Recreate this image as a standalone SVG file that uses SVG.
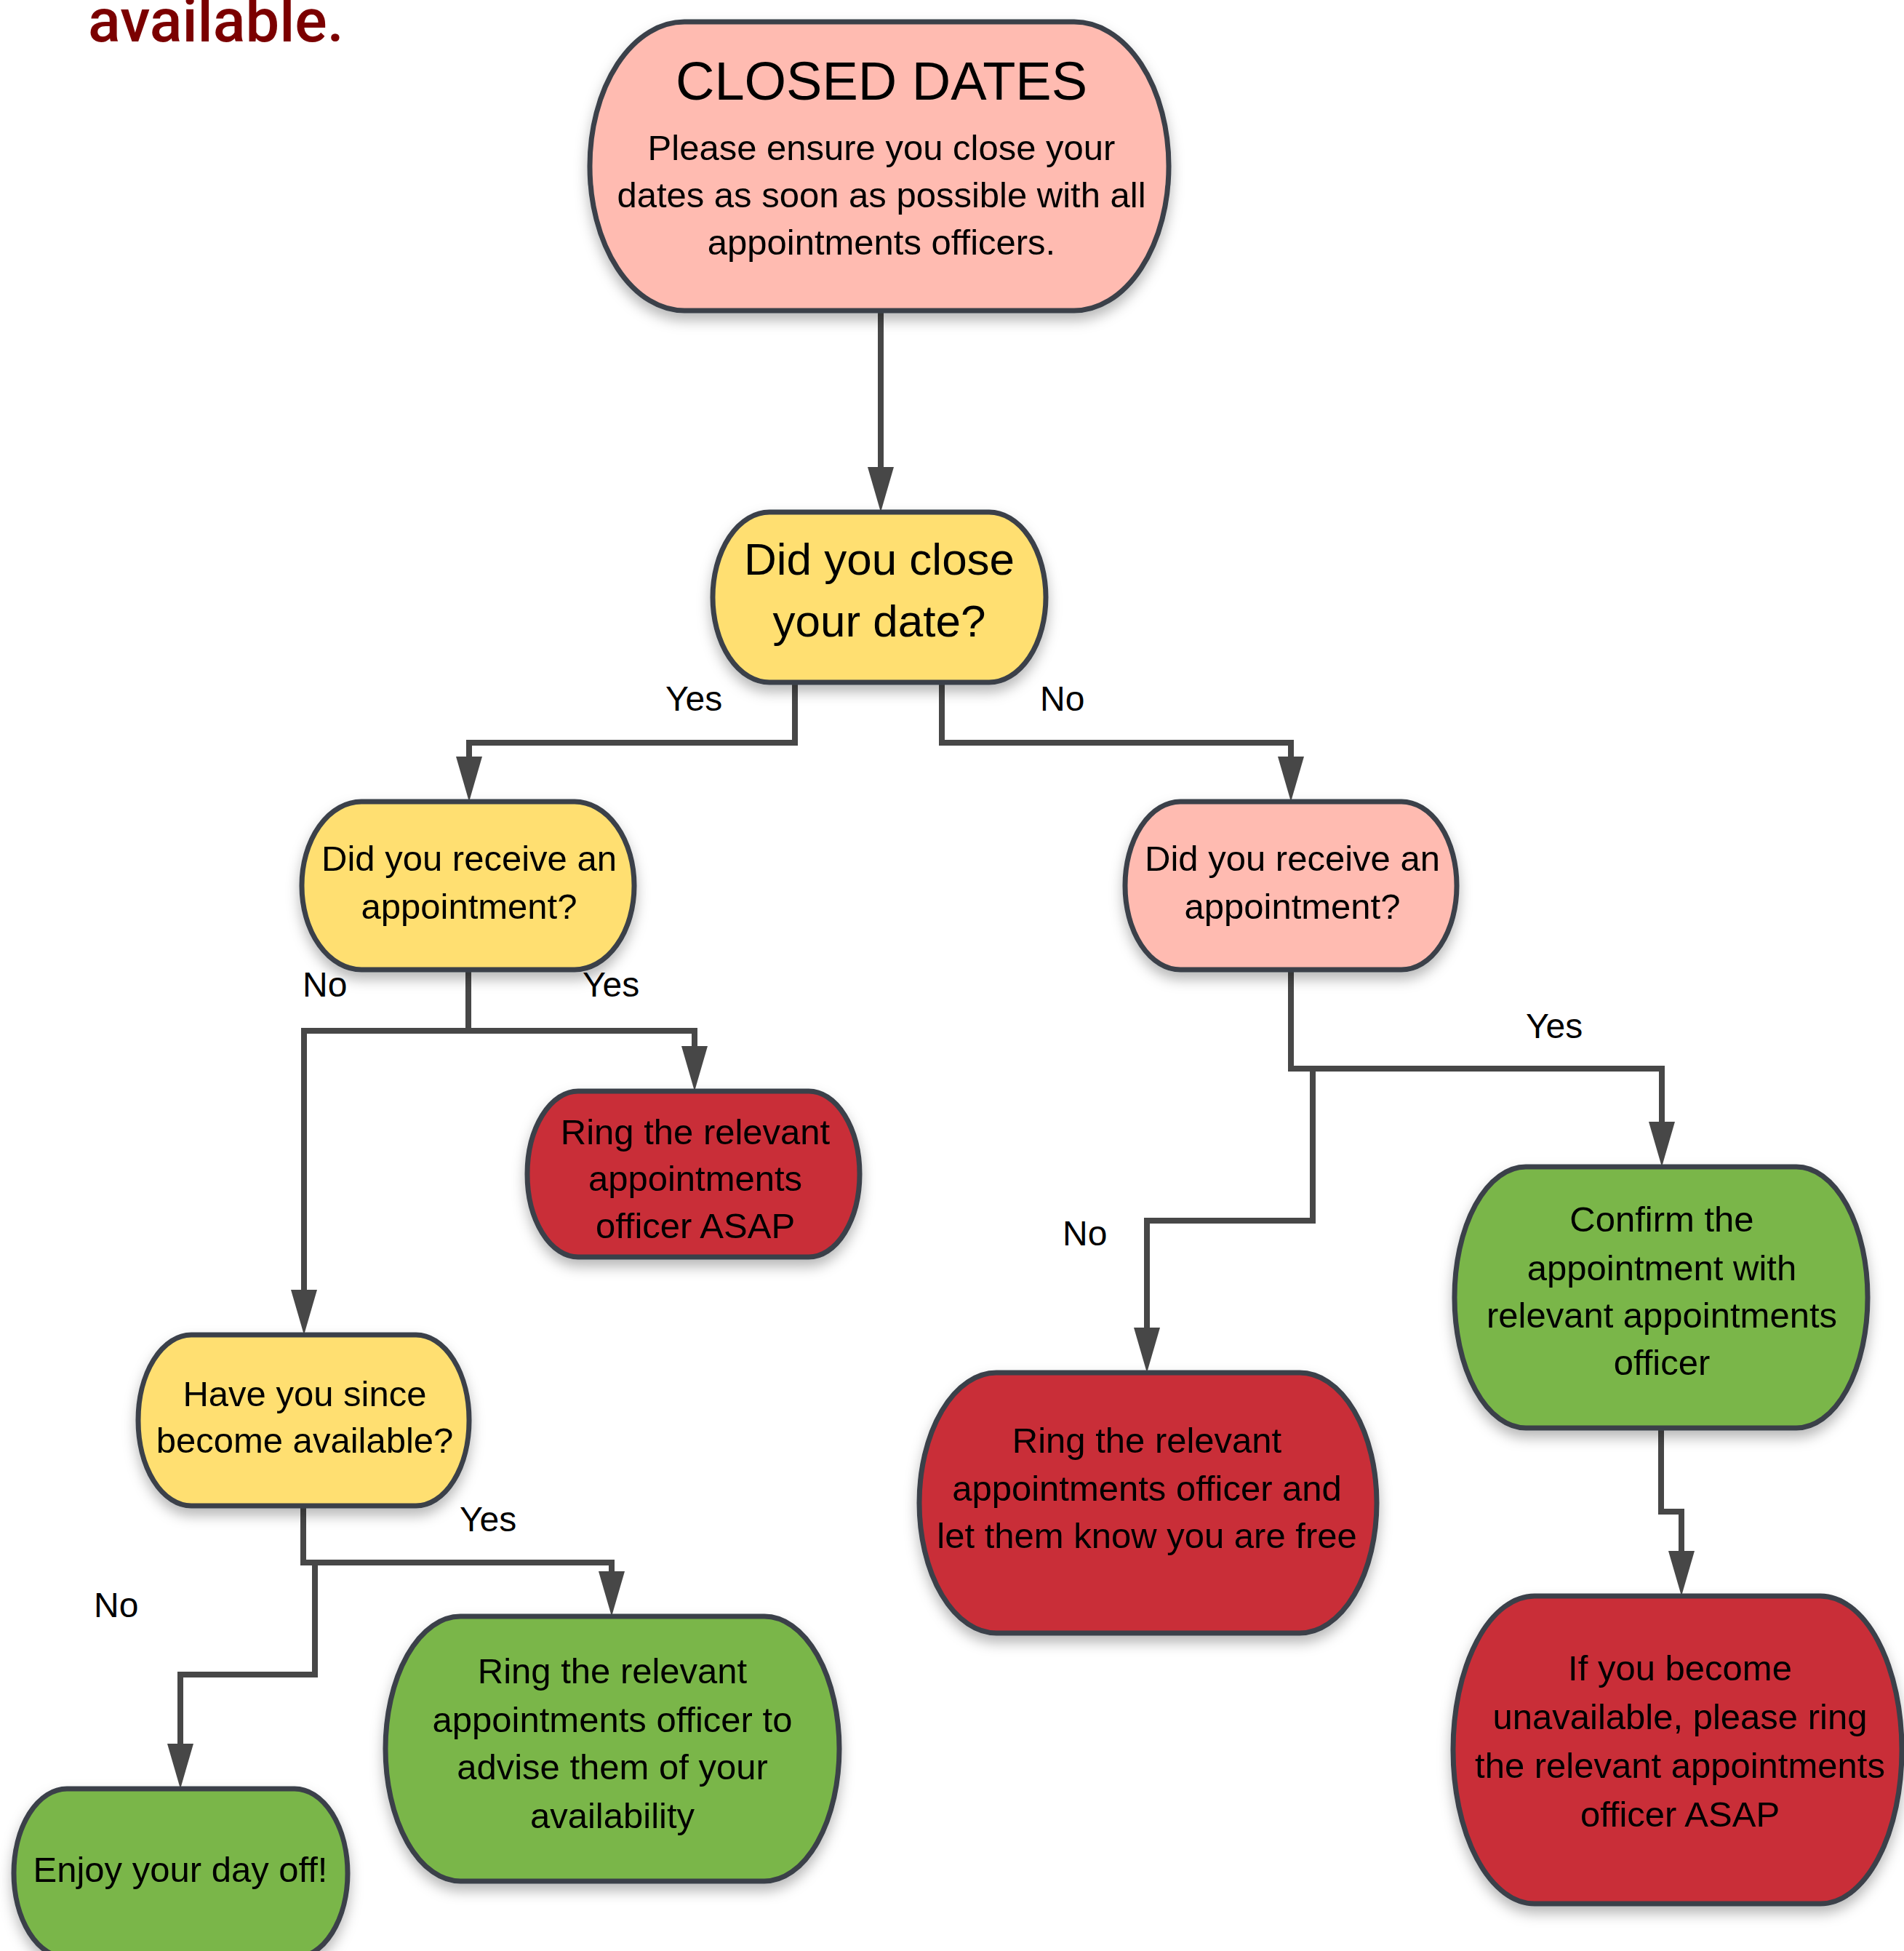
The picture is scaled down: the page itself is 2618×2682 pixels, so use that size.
<svg xmlns="http://www.w3.org/2000/svg" width="2618" height="2682" viewBox="0 0 2618 2682">
<defs>
<style>
.node{stroke:#3a414a;stroke-width:7;filter:url(#sh)}
.pink{fill:#ffbbb1}
.yellow{fill:#ffdf71}
.red{fill:#c92d39}
.green{fill:#7ab648}
.t{font-family:"Liberation Sans",Arial,sans-serif;font-size:49px;fill:#000;text-anchor:middle}
.lbl{font-family:"Liberation Sans",Arial,sans-serif;font-size:48px;fill:#000}
.conn{fill:none;stroke:#474747;stroke-width:8;stroke-linejoin:miter}
.title{font-family:Roboto,"Liberation Sans",sans-serif;font-size:83px;font-weight:500;fill:#7b0000}
</style>
<filter id="sh" x="-10%" y="-10%" width="120%" height="130%">
<feDropShadow dx="0" dy="10" stdDeviation="9" flood-color="#000" flood-opacity="0.28"/>
</filter>
<marker id="arr" markerUnits="userSpaceOnUse" markerWidth="64" markerHeight="40" viewBox="0 -20 64 40" refX="0" refY="0" orient="auto">
<path d="M0,-18 L62,0 L0,18 Z" fill="#474747"/>
</marker>
</defs>
<rect width="2618" height="2682" fill="#fff"/>
<text class="title" x="121" y="57">available.</text>

<g id="connectors">
<path class="conn" d="M1211,427 V642" marker-end="url(#arr)"/>
<path class="conn" d="M1093,938 V1021 H645 V1040" marker-end="url(#arr)"/>
<path class="conn" d="M1295,938 V1021 H1775 V1040" marker-end="url(#arr)"/>
<path class="conn" d="M644,1333 V1417"/>
<path class="conn" d="M418,1417 H955 V1438" marker-end="url(#arr)"/>
<path class="conn" d="M418,1413 V1773" marker-end="url(#arr)"/>
<path class="conn" d="M1775,1333 V1469 H2285 V1542" marker-end="url(#arr)"/>
<path class="conn" d="M1805,1469 V1678 H1577 V1825" marker-end="url(#arr)"/>
<path class="conn" d="M2284,1963 V2078 H2312 V2132" marker-end="url(#arr)"/>
<path class="conn" d="M417,2070 V2148 H841 V2160" marker-end="url(#arr)"/>
<path class="conn" d="M433,2148 V2302 H248 V2397" marker-end="url(#arr)"/>
</g>

<g id="labels">
<text class="lbl" x="915" y="977">Yes</text>
<text class="lbl" x="1430" y="977">No</text>
<text class="lbl" x="416" y="1370">No</text>
<text class="lbl" x="801" y="1370">Yes</text>
<text class="lbl" x="2098" y="1427">Yes</text>
<text class="lbl" x="1461" y="1712">No</text>
<text class="lbl" x="632" y="2105">Yes</text>
<text class="lbl" x="129" y="2223">No</text>
</g>

<g id="closed-dates">
<rect class="node pink" x="811" y="30" width="796" height="397" rx="130" ry="198"/>
<text class="t" x="1212" y="137" style="font-size:74px">CLOSED DATES</text>
<text class="t" x="1212" y="220">Please ensure you close your</text>
<text class="t" x="1212" y="285">dates as soon as possible with all</text>
<text class="t" x="1212" y="350">appointments officers.</text>
</g>

<g id="q-close-date">
<rect class="node yellow" x="980" y="704" width="458" height="234" rx="78" ry="117"/>
<text class="t" x="1209" y="790" style="font-size:62px">Did you close</text>
<text class="t" x="1209" y="875" style="font-size:62px">your date?</text>
</g>

<g id="q-receive-yes">
<rect class="node yellow" x="415" y="1102" width="457" height="231" rx="82" ry="115"/>
<text class="t" x="645" y="1197">Did you receive an</text>
<text class="t" x="645" y="1263">appointment?</text>
</g>

<g id="q-receive-no">
<rect class="node pink" x="1547" y="1102" width="456" height="231" rx="76" ry="115"/>
<text class="t" x="1777" y="1197">Did you receive an</text>
<text class="t" x="1777" y="1263">appointment?</text>
</g>

<g id="ring-asap">
<rect class="node red" x="725" y="1500" width="457" height="228" rx="70" ry="114"/>
<text class="t" x="956" y="1573">Ring the relevant</text>
<text class="t" x="956" y="1637">appointments</text>
<text class="t" x="956" y="1702">officer ASAP</text>
</g>

<g id="q-available">
<rect class="node yellow" x="190" y="1835" width="455" height="235" rx="73" ry="117"/>
<text class="t" x="419" y="1933">Have you since</text>
<text class="t" x="419" y="1997">become available?</text>
</g>

<g id="enjoy">
<rect class="node green" x="19" y="2459" width="459" height="232" rx="73" ry="116"/>
<text class="t" x="248" y="2587">Enjoy your day off!</text>
</g>

<g id="ring-advise">
<rect class="node green" x="530" y="2222" width="624" height="364" rx="103" ry="182"/>
<text class="t" x="842" y="2314">Ring the relevant</text>
<text class="t" x="842" y="2381">appointments officer to</text>
<text class="t" x="842" y="2446">advise them of your</text>
<text class="t" x="842" y="2513">availability</text>
</g>

<g id="ring-free">
<rect class="node red" x="1264" y="1887" width="629" height="358" rx="106" ry="179"/>
<text class="t" x="1577" y="1997">Ring the relevant</text>
<text class="t" x="1577" y="2063">appointments officer and</text>
<text class="t" x="1577" y="2128">let them know you are free</text>
</g>

<g id="confirm">
<rect class="node green" x="2000" y="1604" width="568" height="359" rx="98" ry="179"/>
<text class="t" x="2285" y="1693">Confirm the</text>
<text class="t" x="2285" y="1760">appointment with</text>
<text class="t" x="2285" y="1825">relevant appointments</text>
<text class="t" x="2285" y="1890">officer</text>
</g>

<g id="unavailable">
<rect class="node red" x="1998" y="2194" width="617" height="423" rx="112" ry="211"/>
<text class="t" x="2310" y="2310">If you become</text>
<text class="t" x="2310" y="2377">unavailable, please ring</text>
<text class="t" x="2310" y="2444">the relevant appointments</text>
<text class="t" x="2310" y="2511">officer ASAP</text>
</g>
</svg>
